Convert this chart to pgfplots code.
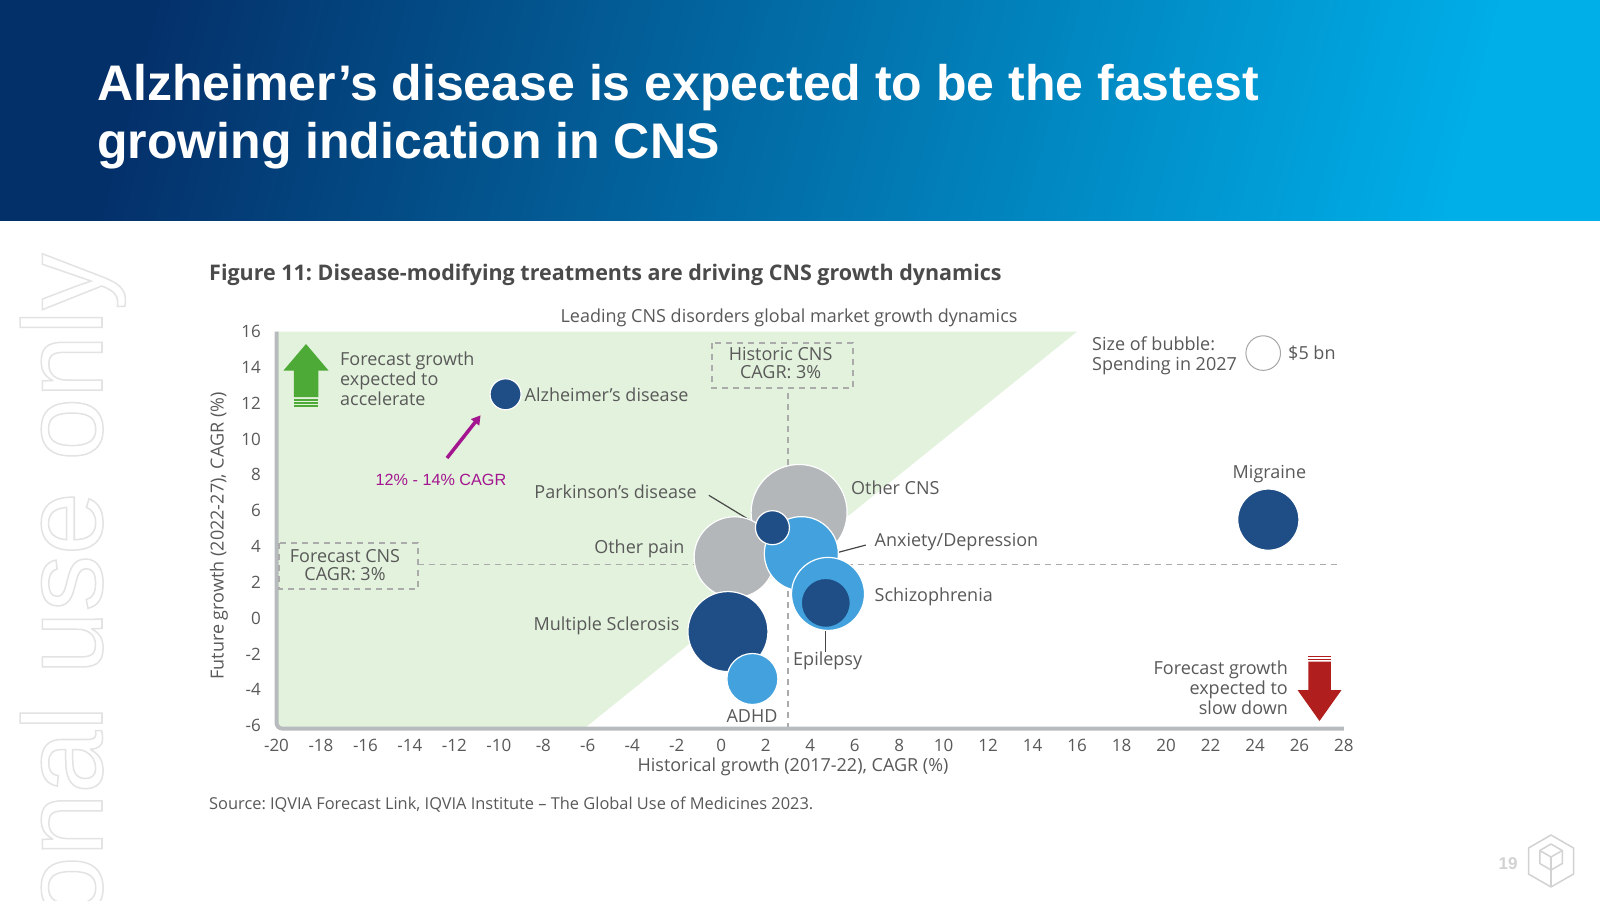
\documentclass[border=0pt]{standalone}
\usepackage{fontspec}
\setmainfont{Open Sans}
\newfontfamily\arial{Liberation Sans}
\usepackage{pgfplots}
\pgfplotsset{compat=1.18}
\usetikzlibrary{arrows.meta}
\frenchspacing
\definecolor{navy}{HTML}{1F4E86}
\definecolor{lblue}{HTML}{43A2DD}
\definecolor{bgray}{HTML}{B3B7BA}
\definecolor{gfill}{HTML}{E3F2DD}
\definecolor{txtgray}{HTML}{595959}
\definecolor{figgray}{HTML}{4A4A4A}
\definecolor{axgray}{HTML}{B7BBBE}
\definecolor{dashgray}{HTML}{ABABAB}
\definecolor{garrow}{HTML}{4DAA37}
\definecolor{rarrow}{HTML}{B01E1E}
\definecolor{magent}{HTML}{A3168F}
\definecolor{hdA}{HTML}{04306A}
\definecolor{hdM}{HTML}{0A6FAA}
\definecolor{hdB}{HTML}{00AEE8}
\definecolor{wmgray}{HTML}{E3E3E3}
\definecolor{icongray}{HTML}{D2D2D2}
\newcommand\lbl{\fontsize{18}{20}\selectfont}
\newcommand\tck{\fontsize{17}{20}\selectfont}
\begin{document}
\frenchspacing
\begin{tikzpicture}
\useasboundingbox (0pt,0pt) rectangle (1600pt,-900pt);
\clip (0pt,0pt) rectangle (1600pt,-900pt);
\fill[white] (0pt,0pt) rectangle (1600pt,-900pt);
% header
\shade[left color=hdA, middle color=hdM, right color=hdB, shading angle=75] (0pt,0pt) rectangle (1600pt,-220pt);
\node[anchor=base west, inner sep=0pt, text=white, font=\arial\bfseries\fontsize{50}{58}\selectfont] at (97pt,-100pt) {Alzheimer’s disease is expected to be the fastest};
\node[anchor=base west, inner sep=0pt, text=white, font=\arial\bfseries\fontsize{50}{58}\selectfont] at (97pt,-158pt) {growing indication in CNS};
% watermark
\node[rotate=90, anchor=base east, inner sep=0pt, text=wmgray, font=\arial\fontsize{113}{113}\selectfont] at (102pt,-253pt) {\special{pdf:code 1 Tr 1.5 w}personal use only\special{pdf:code 0 Tr}};
% figure title
\node[anchor=base west, inner sep=0pt, text=figgray, font=\bfseries\fontsize{21.5}{24}\selectfont] at (209pt,-280pt) {Figure 11: Disease-modifying treatments are driving CNS growth dynamics};
\node[inner sep=0pt, text=txtgray, font=\lbl] at (789pt,-318pt) {Leading CNS disorders global market growth dynamics};

\begin{axis}[
  at={(276.5pt,-728.6pt)}, anchor=south west,
  scale only axis, width=1067.5pt, height=397pt,
  xmin=-20, xmax=28, ymin=-6.17, ymax=16,
  xtick={-20,-18,...,28}, ytick={-6,-4,...,16},
  axis line style={draw=none},
  major tick length=0pt,
  tick label style={font=\tck, text=txtgray},
  /pgf/number format/assume math mode=true,
  xticklabel style={anchor=center, yshift=-16.4pt, inner sep=0pt},
  yticklabel style={anchor=east, xshift=-15.5pt, inner sep=0pt},
  clip=false,
]
% green region
\addplot[fill=gfill, draw=none] coordinates {(-20,-6.17) (-20,16) (16,16) (-6.17,-6.17)} -- cycle;
% reference lines
\draw[dashgray, line width=1.5pt, dash pattern=on 6pt off 5pt] (axis cs:-13.65,3) -- (axis cs:27.8,3);
\draw[dashgray, line width=1.5pt, dash pattern=on 6pt off 5pt] (axis cs:3,-6.17) -- (axis cs:3,12.85);
% axes
\draw[axgray, line width=4pt, rounded corners=6pt] (axis cs:-20,16) -- (axis cs:-20,-6.17) -- (axis cs:28,-6.17);
% bubbles
\addplot[only marks, mark=*, mark size=48pt, mark options={fill=bgray, draw=white, line width=1.2pt}] coordinates {(3.5,5.9)};
\addplot[only marks, mark=*, mark size=40.5pt, mark options={fill=bgray, draw=white, line width=1.2pt}] coordinates {(0.6,3.4)};
\addplot[only marks, mark=*, mark size=37pt, mark options={fill=lblue, draw=white, line width=1.2pt}] coordinates {(3.6,3.6)};
\addplot[only marks, mark=*, mark size=17pt, mark options={fill=navy, draw=white, line width=1.2pt}] coordinates {(2.3,5.05)};
\addplot[only marks, mark=*, mark size=36.5pt, mark options={fill=lblue, draw=white, line width=1.2pt}] coordinates {(4.8,1.35)};
\addplot[only marks, mark=*, mark size=24.5pt, mark options={fill=navy, draw=lblue, line width=1.2pt}] coordinates {(4.7,0.85)};
\addplot[only marks, mark=*, mark size=40pt, mark options={fill=navy, draw=white, line width=1.2pt}] coordinates {(0.3,-0.75)};
\addplot[only marks, mark=*, mark size=25.5pt, mark options={fill=lblue, draw=white, line width=1.2pt}] coordinates {(1.4,-3.4)};
\addplot[only marks, mark=*, mark size=15.5pt, mark options={fill=navy, draw=white, line width=1.2pt}] coordinates {(-9.7,12.5)};
\addplot[only marks, mark=*, mark size=30.6pt, mark options={fill=navy, draw=white, line width=1.2pt}] coordinates {(24.6,5.5)};
% bubble size legend
\addplot[only marks, mark=*, mark size=17.3pt, mark options={fill=white, draw=gray!70, line width=1pt}] coordinates {(24.37,14.8)};
% leader lines
\draw[txtgray!80!black, line width=1.2pt] (axis cs:-0.56,6.86) -- (axis cs:1.64,5.2);
\draw[txtgray!80!black, line width=1.2pt] (axis cs:6.5,4.08) -- (axis cs:5.13,3.63);
\draw[txtgray!80!black, line width=1.2pt] (axis cs:4.7,-0.53) -- (axis cs:4.7,-1.9);
\end{axis}

% axis labels
\node[inner sep=0pt, text=txtgray, font=\lbl] at (793pt,-767pt) {Historical growth (2017-22), CAGR (\%)};
\node[rotate=90, inner sep=0pt, text=txtgray, font=\lbl] at (219pt,-536pt) {Future growth (2022-27), CAGR (\%)};
\node[anchor=west, inner sep=0pt, text=txtgray, font=\fontsize{16.4}{19}\selectfont] at (209pt,-805pt) {Source: IQVIA Forecast Link, IQVIA Institute – The Global Use of Medicines 2023.};

% dashed boxes
\draw[dashgray, line width=1.5pt, dash pattern=on 6pt off 5pt] (712pt,-343pt) rectangle (853pt,-388pt);
\draw[dashgray, line width=1.5pt, dash pattern=on 6pt off 5pt] (279pt,-543pt) rectangle (418pt,-589pt);
\node[align=center, inner sep=0pt, text=txtgray, font=\fontsize{18}{18.5}\selectfont] at (780.6pt,-363pt) {Historic CNS\\CAGR: 3\%};
\node[align=center, inner sep=0pt, text=txtgray, font=\fontsize{18}{18.5}\selectfont] at (345pt,-565pt) {Forecast CNS\\CAGR: 3\%};

% bubble labels
\begin{scope}[every node/.style={inner sep=0pt, text=txtgray, font=\lbl}]
\node[anchor=west] at (524.5pt,-395pt) {Alzheimer’s disease};
\node[anchor=east] at (697pt,-492pt) {Parkinson’s disease};
\node[anchor=west] at (851pt,-488pt) {Other CNS};
\node[anchor=west] at (874.5pt,-542pt) {Anxiety/Depression};
\node[anchor=east] at (684.7pt,-549pt) {Other pain};
\node[anchor=west] at (874.5pt,-597pt) {Schizophrenia};
\node[anchor=east] at (679.6pt,-625.5pt) {Multiple Sclerosis};
\node[anchor=west] at (793pt,-661pt) {Epilepsy};
\node at (752pt,-716pt) {ADHD};
\node at (1269.4pt,-474.5pt) {Migraine};
\node[anchor=west, align=left] at (340pt,-379pt) {Forecast growth\\expected to\\accelerate};
\node[anchor=east, align=right] at (1288pt,-688pt) {Forecast growth\\expected to\\slow down};
\node[anchor=west, align=left] at (1092pt,-356pt) {Size of bubble:\\Spending in 2027};
\node[anchor=west] at (1288pt,-353pt) {\$5 bn};
\end{scope}
\node[inner sep=0pt, text=magent, font=\arial\fontsize{16.2}{18}\selectfont] at (441pt,-479.6pt) {12\% - 14\% CAGR};
\draw[magent, line width=3.5pt, -{Triangle[length=9pt,width=10pt]}] (447pt,-458pt) -- (480.6pt,-415.3pt);

% green arrow
\fill[garrow] (306pt,-344pt) -- (328.5pt,-370.5pt) -- (318.25pt,-370.5pt) -- (318.25pt,-397pt) -- (293.75pt,-397pt) -- (293.75pt,-370.5pt) -- (283.5pt,-370.5pt) -- cycle;
\fill[garrow] (293.75pt,-399pt) rectangle (318.25pt,-400.5pt);
\fill[garrow] (293.75pt,-402pt) rectangle (318.25pt,-403.5pt);
\fill[garrow] (293.75pt,-405pt) rectangle (318.25pt,-406.5pt);
% red arrow
\fill[rarrow] (1308.25pt,-655.5pt) rectangle (1330.75pt,-657pt);
\fill[rarrow] (1308.25pt,-658.5pt) rectangle (1330.75pt,-660pt);
\fill[rarrow] (1308.25pt,-661.5pt) -- (1330.75pt,-661.5pt) -- (1330.75pt,-690pt) -- (1341.5pt,-690pt) -- (1319.5pt,-721pt) -- (1297.5pt,-690pt) -- (1308.25pt,-690pt) -- cycle;

% page number and icon
\node[inner sep=0pt, text=icongray, font=\arial\bfseries\fontsize{17}{20}\selectfont] at (1508pt,-864pt) {19};
\begin{scope}[shift={(1551pt,-861pt)}, icongray, line width=1.5pt, line join=round]
\draw (90:26pt) -- (30:26pt) -- (-30:26pt) -- (-90:26pt) -- (-150:26pt) -- (150:26pt) -- cycle;
\begin{scope}[shift={(0pt,4pt)}]
\draw (90:13pt) -- (30:13pt) -- (-30:13pt) -- (-90:13pt) -- (-150:13pt) -- (150:13pt) -- cycle;
\draw (0pt,0pt) -- (150:13pt);
\draw (0pt,0pt) -- (30:13pt);
\draw (0pt,0pt) -- (0pt,-30pt);
\end{scope}
\end{scope}
\end{tikzpicture}
\end{document}
